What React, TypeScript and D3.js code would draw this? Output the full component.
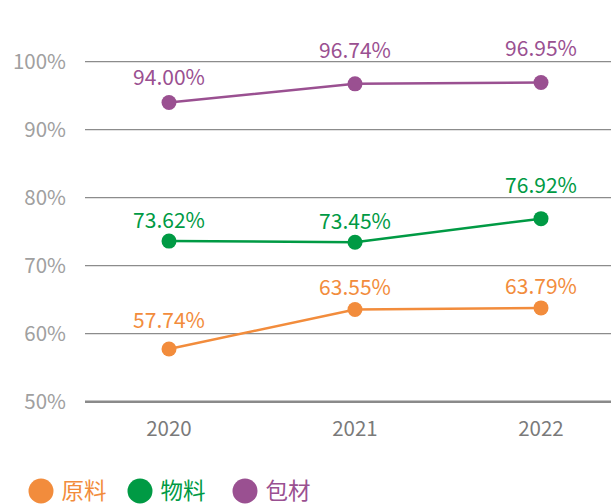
import React from "react";
import * as d3 from "d3";

const years = ["2020", "2021", "2022"];
const rawMaterial = [57.74, 63.55, 63.79];
const materials = [73.62, 73.45, 76.92];
const packaging = [94.0, 96.74, 96.95];
const seriesNames = ["原料", "物料", "包材"];
const seriesColors = ["#F28C3C", "#009A44", "#9A5091"];
const yTicks = [50, 60, 70, 80, 90, 100];

// layout: vertical offset (px) of each value label's centre above its marker
const labelLift = [
  [28.5, 22, 21],
  [21, 21, 33],
  [25, 33, 34],
];

const W = 611;
const H = 504;
const FONT = '"Noto Sans CJK SC", "Noto Sans", sans-serif';

export default function App() {
  const x = d3.scalePoint<string>().domain(years).range([169, 541]);
  const y = d3.scaleLinear().domain([50, 100]).range([401.7, 61.7]);
  const series = [rawMaterial, materials, packaging];
  const line = d3
    .line<number>()
    .x((_, i) => x(years[i]) as number)
    .y((d) => y(d));

  return (
    <svg
      width={W}
      height={H}
      style={{ position: "absolute", left: 0, top: 0, background: "#fff" }}
      fontFamily={FONT}
    >
      {yTicks.map((t) => (
        <g key={t}>
          {t !== 50 && (
            <line x1={85} x2={W} y1={y(t)} y2={y(t)} stroke="#8c8c8c" strokeWidth={1.3} />
          )}
          <text
            x={66}
            y={y(t)}
            dy="0.36em"
            textAnchor="end"
            fontSize={20.5}
            fill="#a0a0a0"
          >
            {t}%
          </text>
        </g>
      ))}
      <line x1={85} x2={W} y1={y(50)} y2={y(50)} stroke="#8a8a8a" strokeWidth={2.5} />
      {years.map((yr) => (
        <text
          key={yr}
          x={x(yr) as number}
          y={435.7}
          textAnchor="middle"
          fontSize={20.5}
          fill="#7a7a7a"
        >
          {yr}
        </text>
      ))}
      {series.map((s, si) => (
        <g key={si}>
          <path d={line(s) || ""} fill="none" stroke={seriesColors[si]} strokeWidth={2.5} />
          {s.map((v, i) => (
            <g key={i}>
              <circle cx={x(years[i]) as number} cy={y(v)} r={7.5} fill={seriesColors[si]} />
              <text
                x={x(years[i]) as number}
                y={y(v) - labelLift[si][i]}
                dy="0.36em"
                textAnchor="middle"
                fontSize={21}
                fill={seriesColors[si]}
              >
                {v.toFixed(2)}%
              </text>
            </g>
          ))}
        </g>
      ))}
      {seriesNames.map((n, i) => {
        const cx = [41, 140, 245][i];
        return (
          <g key={n}>
            <circle cx={cx} cy={491} r={12.5} fill={seriesColors[i]} />
            <text x={cx + 20.5} y={491} dy="0.36em" fontSize={22.5} fill={seriesColors[i]}>
              {n}
            </text>
          </g>
        );
      })}
    </svg>
  );
}
